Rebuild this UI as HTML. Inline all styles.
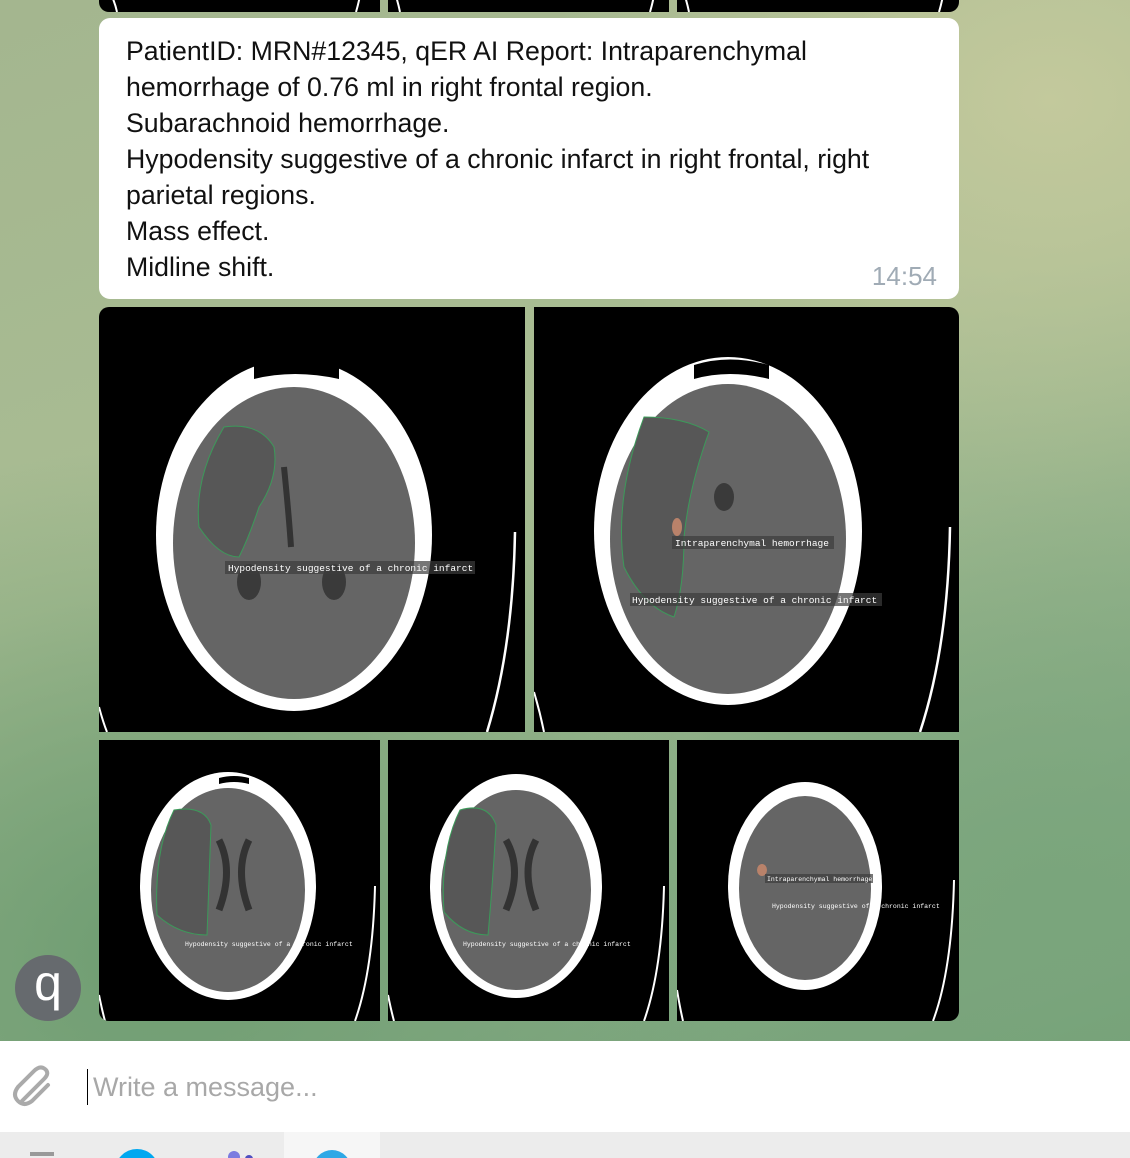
<!DOCTYPE html>
<html><head><meta charset="utf-8">
<style>
html,body{margin:0;padding:0}
body{width:1130px;height:1158px;position:relative;overflow:hidden;font-family:"Liberation Sans",sans-serif;
background:
radial-gradient(ellipse 500px 400px at 1050px 100px,#c3c99c 0%,rgba(195,201,156,0) 100%),
radial-gradient(ellipse 600px 500px at 150px 950px,#6f9d72 0%,rgba(111,157,114,0) 100%),
radial-gradient(ellipse 500px 400px at 1050px 900px,#7aa57c 0%,rgba(122,165,124,0) 100%),
linear-gradient(160deg,#a4b68f 0%,#a9bd93 40%,#86ab84 75%,#6a9a70 100%);}
.panel{position:absolute;background:#000;overflow:hidden}
.panel svg{display:block}
#bubble{position:absolute;left:99px;top:18px;width:860px;height:281px;background:#fff;border-radius:11px}
#msg{position:absolute;left:27px;top:15px;font-size:26.7px;line-height:36px;color:#111;white-space:pre}
#time{position:absolute;right:22px;top:243px;font-size:26px;color:#a0abb5}
#avatar{position:absolute;left:15px;top:955px;width:66px;height:66px;border-radius:50%;background:#666a6e;color:#fff;font-size:50px;line-height:56px;text-align:center}
#composer{position:absolute;left:0;top:1041px;width:1130px;height:91px;background:#fff}
#input{position:absolute;left:93px;top:31px;font-size:27px;color:#a8a8a8}
#caret{position:absolute;left:87px;top:28px;width:1px;height:36px;background:#000}
#tray{position:absolute;left:0;top:1132px;width:1130px;height:26px;background:#ececec;overflow:hidden}
</style></head><body>

<div class="panel" style="left:99px;top:-10px;width:281px;height:22px;border-radius:0 0 0 10px"><svg width="281" height="22"><path d="M10 0 Q16 12 18 22" stroke="#fff" stroke-width="2" fill="none"/><path d="M262 0 Q260 12 257 22" stroke="#fff" stroke-width="2" fill="none"/></svg></div>
<div class="panel" style="left:388px;top:-10px;width:281px;height:22px"><svg width="281" height="22"><path d="M6 0 Q10 12 12 22" stroke="#fff" stroke-width="2" fill="none"/><path d="M267 0 Q265 12 262 22" stroke="#fff" stroke-width="2" fill="none"/></svg></div>
<div class="panel" style="left:677px;top:-10px;width:282px;height:22px;border-radius:0 0 10px 0"><svg width="282" height="22"><path d="M6 0 Q10 12 12 22" stroke="#fff" stroke-width="2" fill="none"/><path d="M267 0 Q265 12 262 22" stroke="#fff" stroke-width="2" fill="none"/></svg></div>

<div id="bubble">
<div id="msg">PatientID: MRN#12345, qER AI Report: Intraparenchymal
hemorrhage of 0.76 ml in right frontal region.
Subarachnoid hemorrhage.
Hypodensity suggestive of a chronic infarct in right frontal, right
parietal regions.
Mass effect.
Midline shift.</div>
<div id="time">14:54</div>
</div>

<!-- top row -->
<div class="panel" style="left:99px;top:307px;width:426px;height:425px;border-radius:10px 0 0 0">
<svg width="426" height="425">
<ellipse cx="195" cy="228" rx="138" ry="176" fill="#fff"/>
<ellipse cx="195" cy="236" rx="121" ry="156" fill="#656565"/>
<path d="M155 55 Q195 42 240 55 L240 72 Q195 62 155 72Z" fill="#000"/>
<ellipse cx="150" cy="275" rx="12" ry="18" fill="#3a3a3a"/><ellipse cx="235" cy="275" rx="12" ry="18" fill="#3a3a3a"/>
<path d="M185 160 Q190 210 192 240" stroke="#333" stroke-width="6" fill="none"/>
<path d="M125 120 Q160 115 175 140 Q180 170 160 200 Q150 230 140 250 Q120 250 100 220 Q95 170 125 120Z" fill="#575757" stroke="#3c9a5a" stroke-width="1"/>
<rect x="126" y="254" width="250" height="13" fill="rgba(60,60,60,0.7)"/>
<text x="129" y="264" font-family="Liberation Mono,monospace" font-size="9.5" fill="#fff">Hypodensity suggestive of a chronic infarct</text>
<path d="M0 400 Q4 415 8 425" stroke="#fff" stroke-width="2" fill="none"/>
<path d="M416 225 Q414 340 388 425" stroke="#fff" stroke-width="2.5" fill="none"/>
</svg></div>
<div class="panel" style="left:534px;top:307px;width:425px;height:425px;border-radius:0 10px 0 0">
<svg width="425" height="425">
<ellipse cx="194" cy="224" rx="134" ry="174" fill="#fff"/>
<ellipse cx="194" cy="232" rx="118" ry="155" fill="#656565"/>
<path d="M160 58 Q195 47 235 58 L235 72 Q195 62 160 72Z" fill="#000"/>
<ellipse cx="190" cy="190" rx="10" ry="14" fill="#3a3a3a"/>
<path d="M110 110 Q150 110 175 125 Q155 180 150 230 Q150 280 140 310 Q110 300 90 260 Q80 190 110 110Z" fill="#575757" stroke="#3c9a5a" stroke-width="1"/>
<ellipse cx="143" cy="220" rx="5" ry="9" fill="#b9826a"/>
<rect x="138" y="229" width="162" height="13" fill="rgba(60,60,60,0.7)"/>
<text x="141" y="239" font-family="Liberation Mono,monospace" font-size="9.5" fill="#fff">Intraparenchymal hemorrhage</text>
<rect x="96" y="286" width="252" height="13" fill="rgba(60,60,60,0.7)"/>
<text x="98" y="296" font-family="Liberation Mono,monospace" font-size="9.5" fill="#fff">Hypodensity suggestive of a chronic infarct</text>
<path d="M0 385 Q6 405 10 425" stroke="#fff" stroke-width="2" fill="none"/>
<path d="M416 220 Q414 340 386 425" stroke="#fff" stroke-width="2.5" fill="none"/>
</svg></div>

<!-- bottom row -->
<div class="panel" style="left:99px;top:740px;width:281px;height:281px;border-radius:0 0 0 10px">
<svg width="281" height="281">
<ellipse cx="129" cy="146" rx="88" ry="114" fill="#fff"/>
<ellipse cx="129" cy="150" rx="77" ry="102" fill="#656565"/>
<path d="M120 38 Q135 34 150 38 L150 44 Q135 40 120 44Z" fill="#000"/>
<path d="M120 100 Q135 130 120 170 M150 100 Q135 130 150 170" stroke="#333" stroke-width="7" fill="none"/>
<path d="M75 70 Q105 65 112 85 Q110 140 108 195 Q80 195 58 175 Q55 110 75 70Z" fill="#575757" stroke="#3c9a5a" stroke-width="1"/>
<text x="86" y="206" font-family="Liberation Mono,monospace" font-size="6.5" fill="#fff">Hypodensity suggestive of a chronic infarct</text>
<path d="M0 255 Q3 270 6 281" stroke="#fff" stroke-width="2" fill="none"/>
<path d="M276 146 Q274 230 256 281" stroke="#fff" stroke-width="2" fill="none"/>
</svg></div>
<div class="panel" style="left:388px;top:740px;width:281px;height:281px">
<svg width="281" height="281">
<ellipse cx="128" cy="146" rx="86" ry="112" fill="#fff"/>
<ellipse cx="128" cy="150" rx="75" ry="100" fill="#656565"/>
<path d="M118 100 Q135 130 118 170 M148 100 Q132 130 148 170" stroke="#333" stroke-width="7" fill="none"/>
<path d="M72 70 Q100 62 108 85 Q105 140 100 195 Q75 195 56 172 Q52 110 72 70Z" fill="#575757" stroke="#3c9a5a" stroke-width="1"/>
<text x="75" y="206" font-family="Liberation Mono,monospace" font-size="6.5" fill="#fff">Hypodensity suggestive of a chronic infarct</text>
<path d="M0 255 Q3 270 6 281" stroke="#fff" stroke-width="2" fill="none"/>
<path d="M276 146 Q274 230 256 281" stroke="#fff" stroke-width="2" fill="none"/>
</svg></div>
<div class="panel" style="left:677px;top:740px;width:282px;height:281px;border-radius:0 0 10px 0">
<svg width="282" height="281">
<ellipse cx="128" cy="146" rx="77" ry="104" fill="#fff"/>
<ellipse cx="128" cy="148" rx="66" ry="92" fill="#656565"/>
<ellipse cx="85" cy="130" rx="5" ry="6" fill="#b9826a"/>
<rect x="88" y="134" width="108" height="9" fill="rgba(60,60,60,0.7)"/>
<text x="90" y="141" font-family="Liberation Mono,monospace" font-size="6.5" fill="#fff">Intraparenchymal hemorrhage</text>
<text x="95" y="168" font-family="Liberation Mono,monospace" font-size="6.5" fill="#fff">Hypodensity suggestive of a chronic infarct</text>
<path d="M0 250 Q3 268 6 281" stroke="#fff" stroke-width="2" fill="none"/>
<path d="M277 140 Q275 230 256 281" stroke="#fff" stroke-width="2" fill="none"/>
</svg></div>

<div id="avatar">q</div>

<div id="composer">
<svg style="position:absolute;left:12px;top:24px" width="44" height="44" viewBox="0 0 44 44"><path d="M10 36 L32 14 Q38 8 33 4 Q28 0 22 6 L6 22 Q0 30 6 36 Q12 42 20 36 L36 20" stroke="#aaa" stroke-width="4" fill="none" stroke-linecap="round"/></svg>
<div id="caret"></div>
<div id="input">Write a message...</div>
</div>
<div id="tray">
<div style="position:absolute;left:284px;top:0;width:96px;height:26px;background:#f6f6f6"></div>
<div style="position:absolute;left:30px;top:20px;width:24px;height:4px;background:#999"></div>
<div style="position:absolute;left:115px;top:17px;width:44px;height:44px;border-radius:50%;background:#00a8f0"></div>
<div style="position:absolute;left:228px;top:19px;width:12px;height:12px;border-radius:50%;background:#7b7be0"></div>
<div style="position:absolute;left:245px;top:23px;width:8px;height:8px;border-radius:50%;background:#5050c0"></div>
<div style="position:absolute;left:313px;top:18px;width:38px;height:38px;border-radius:50%;background:#2ea8e6"></div>
</div>
</body></html>
